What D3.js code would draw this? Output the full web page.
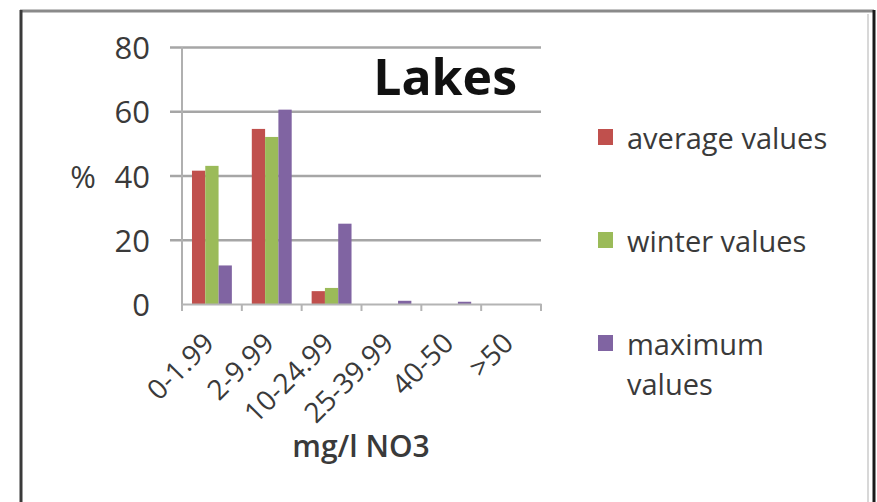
<!DOCTYPE html>
<html>
<head>
<meta charset="utf-8">
<script src="https://cdn.jsdelivr.net/npm/d3@7"></script>
<style>
  html, body { margin: 0; padding: 0; background: #fff; }
  svg { display: block; }
  text { font-family: "Open Sans", "DejaVu Sans", sans-serif; fill: #3a3a3a; }
</style>
</head>
<body>
<svg id="chart" width="877" height="502"></svg>
<script>
// Share of lakes per nitrate class (mg/l NO3), in %
const categories = ["0-1.99", "2-9.99", "10-24.99", "25-39.99", "40-50", ">50"];
const seriesNames = ["average values", "winter values", "maximum values"];
const averageValues = [41.5, 54.5, 4, 0, 0, 0];
const winterValues = [43, 52, 5, 0, 0, 0];
const maximumValues = [12, 60.5, 25, 1, 0.7, 0];
const yTicks = [0, 20, 40, 60, 80];
const colors = ["#c0504d", "#9bbb59", "#8064a2"];

const series = [averageValues, winterValues, maximumValues];

const svg = d3.select("#chart");

// frame around the chart area
svg.append("line").attr("x1", 20).attr("x2", 874).attr("y1", 11).attr("y2", 11)
  .attr("stroke", "#8a8a8a").attr("stroke-width", 3);
svg.append("line").attr("x1", 21).attr("x2", 21).attr("y1", 10).attr("y2", 502)
  .attr("stroke", "#3a3a3a").attr("stroke-width", 3);
svg.append("line").attr("x1", 874).attr("x2", 874).attr("y1", 10).attr("y2", 502)
  .attr("stroke", "#1a1a1a").attr("stroke-width", 3);
svg.append("line").attr("x1", 868).attr("x2", 868).attr("y1", 14).attr("y2", 502)
  .attr("stroke", "#d8d8d8").attr("stroke-width", 2);

const plot = { left: 182, right: 541, top: 47, bottom: 304 };

const x = d3.scaleBand().domain(categories).range([plot.left, plot.right]);
// bars: gap width 150% of one bar, split on each side of the group
const barW = x.bandwidth() / (series.length + 1.5);
const y = d3.scaleLinear().domain([0, 80]).range([plot.bottom, plot.top]);

// horizontal gridlines with outside tick stubs
const gy = svg.append("g").attr("transform", `translate(${plot.right},0)`)
  .call(d3.axisLeft(y).tickValues(yTicks.filter(d => d > 0))
    .tickSize(plot.right - plot.left + 12).tickFormat(""));
gy.select(".domain").remove();
gy.selectAll(".tick line").attr("stroke", "#a6a6a6").attr("stroke-width", 2.6);

// y tick labels
svg.append("g").selectAll("text").data(yTicks).join("text")
  .attr("x", 150).attr("y", d => y(d))
  .attr("text-anchor", "end").attr("dominant-baseline", "central")
  .style("font-size", "31px")
  .text(d => d);

// vertical axis line
svg.append("line").attr("x1", plot.left).attr("x2", plot.left)
  .attr("y1", plot.top).attr("y2", plot.bottom)
  .attr("stroke", "#b0b0b0").attr("stroke-width", 2);

// bars
const groups = svg.append("g").selectAll("g").data(series).join("g")
  .attr("fill", (d, i) => colors[i]);
groups.selectAll("rect").data((vals, si) => vals.map((v, ci) => ({ v, ci, si })))
  .join("rect")
  .attr("x", d => x(categories[d.ci]) + barW * 0.75 + d.si * barW)
  .attr("width", barW)
  .attr("y", d => y(d.v))
  .attr("height", d => plot.bottom - y(d.v));

// horizontal axis with category ticks
const gx = svg.append("g").attr("transform", `translate(0,${plot.bottom})`)
  .call(d3.axisBottom(x).tickSize(0).tickFormat(""));
gx.select(".domain").attr("stroke", "#b4b4b4").attr("stroke-width", 2);
const boundaries = categories.map(c => x(c)).concat([plot.right]);
svg.append("g").selectAll("line").data(boundaries).join("line")
  .attr("x1", d => d).attr("x2", d => d)
  .attr("y1", plot.bottom).attr("y2", plot.bottom + 7)
  .attr("stroke", "#b4b4b4").attr("stroke-width", 2);

// rotated category labels
svg.append("g").selectAll("text").data(categories).join("text")
  .attr("transform", d => `translate(${x(d) + x.bandwidth() / 2 + 4},345) rotate(-45)`)
  .attr("text-anchor", "end")
  .style("font-size", "28px")
  .text(d => d);

// axis titles
svg.append("text").attr("x", 83).attr("y", y(40))
  .attr("text-anchor", "middle").attr("dominant-baseline", "central")
  .style("font-size", "31px").text("%");
svg.append("text").attr("x", 361).attr("y", 457)
  .attr("text-anchor", "middle")
  .style("font-size", "30px").style("font-weight", 600)
  .text("mg/l NO3");

// chart title
svg.append("text").attr("x", 517).attr("y", 95)
  .attr("text-anchor", "end")
  .style("font-size", "50px").style("font-weight", 700).style("fill", "#111")
  .text("Lakes");

// legend
const legendY = [137, 240, 343];
const legend = svg.append("g").selectAll("g").data(seriesNames).join("g")
  .attr("transform", (d, i) => `translate(598,${legendY[i]})`);
legend.append("rect").attr("x", 0).attr("y", -8).attr("width", 15).attr("height", 16)
  .attr("fill", (d, i) => colors[i]);
legend.append("text").attr("x", 29).attr("y", 0)
  .attr("dominant-baseline", "central")
  .style("font-size", "29px")
  .each(function (d) {
    const words = d === "maximum values" ? ["maximum", "values"] : [d];
    d3.select(this).selectAll("tspan").data(words).join("tspan")
      .attr("x", 29).attr("dy", (w, i) => i === 0 ? 0 : 40)
      .text(w => w);
  });
</script>
</body>
</html>
